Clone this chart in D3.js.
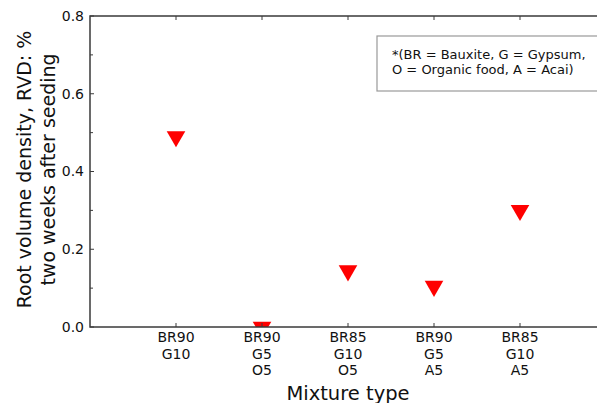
<!DOCTYPE html>
<html>
<head>
<meta charset="utf-8">
<script src="https://cdn.jsdelivr.net/npm/d3@7"></script>
<style>
  body { margin: 0; background: #fff; }
  svg { font-family: "DejaVu Sans", sans-serif; }
</style>
</head>
<body>
<div id="chart"></div>
<script>
// mixture types (tick labels are multi-line)
const mixtures = [
  ["BR90", "G10"],
  ["BR90", "G5", "O5"],
  ["BR85", "G10", "O5"],
  ["BR90", "G5", "A5"],
  ["BR85", "G10", "A5"]
]
const rvd = [0.49, 0.0, 0.145, 0.105, 0.30]
const yTicks = [0.0, 0.2, 0.4, 0.6, 0.8]
const yMinor = [0.1, 0.3, 0.5, 0.7]
const noteLines = ["*(BR = Bauxite, G = Gypsum,", "O = Organic food, A = Acai)"]

const width = 597, height = 403
const margin = { left: 90, top: 16, right: -9, bottom: 76 }

const svg = d3.select("#chart").append("svg")
  .attr("width", width)
  .attr("height", height)

const x = d3.scaleLinear().domain([0, 6]).range([margin.left, width - margin.right])
const y = d3.scaleLinear().domain([0, 0.8]).range([height - margin.bottom, margin.top])

const axisColor = "#3a3a3a"

svg.append("defs").append("clipPath").attr("id", "plot")
  .append("rect")
  .attr("x", x(0)).attr("y", y(0.8))
  .attr("width", x(6) - x(0)).attr("height", y(0) - y(0.8))

// markers: triangle down (clipped to the axes like matplotlib)
const tri = d3.symbol().type(d3.symbolTriangle).size(150)
svg.append("g").attr("clip-path", "url(#plot)")
  .selectAll("path")
  .data(rvd)
  .join("path")
  .attr("transform", (d, i) => `translate(${x(i + 1)},${y(d)}) rotate(180)`)
  .attr("d", tri)
  .attr("fill", "#ff0000")

// frame
svg.append("rect")
  .attr("x", x(0)).attr("y", y(0.8))
  .attr("width", x(6) - x(0)).attr("height", y(0) - y(0.8))
  .attr("fill", "none").attr("stroke", axisColor).attr("stroke-width", 1.5)

// y ticks (inward)
const tickG = svg.append("g").attr("stroke", axisColor).attr("stroke-width", 1)
yTicks.forEach(v => {
  tickG.append("line").attr("x1", x(0)).attr("x2", x(0) + 4).attr("y1", y(v)).attr("y2", y(v))
  tickG.append("line").attr("x1", x(6)).attr("x2", x(6) - 4).attr("y1", y(v)).attr("y2", y(v))
})
yMinor.forEach(v => {
  tickG.append("line").attr("x1", x(0)).attr("x2", x(0) + 3).attr("y1", y(v)).attr("y2", y(v))
  tickG.append("line").attr("x1", x(6)).attr("x2", x(6) - 3).attr("y1", y(v)).attr("y2", y(v))
})
// x ticks top and bottom
mixtures.forEach((m, i) => {
  tickG.append("line").attr("x1", x(i + 1)).attr("x2", x(i + 1)).attr("y1", y(0)).attr("y2", y(0) - 4)
  tickG.append("line").attr("x1", x(i + 1)).attr("x2", x(i + 1)).attr("y1", y(0.8)).attr("y2", y(0.8) + 4)
})

// y tick labels
svg.append("g").selectAll("text")
  .data(yTicks)
  .join("text")
  .attr("x", x(0) - 6)
  .attr("y", d => y(d))
  .attr("dy", "0.35em")
  .attr("text-anchor", "end")
  .style("font-size", "14px")
  .attr("fill", "#111")
  .text(d => d.toFixed(1))

// x tick labels
const xl = svg.append("g").selectAll("text")
  .data(mixtures)
  .join("text")
  .attr("text-anchor", "middle")
  .style("font-size", "14px")
  .attr("fill", "#111")
xl.each(function (d, i) {
  const t = d3.select(this)
  d.forEach((line, j) => {
    t.append("tspan").attr("x", x(i + 1)).attr("y", y(0) + 15 + j * 16.5).text(line)
  })
})

// axis labels
svg.append("text")
  .attr("x", (x(0) + x(6)) / 2)
  .attr("y", 400)
  .attr("text-anchor", "middle")
  .style("font-size", "19.5px")
  .attr("fill", "#111")
  .text("Mixture type")

const yl = svg.append("text")
  .attr("transform", `translate(31,${(y(0) + y(0.8)) / 2 - 2}) rotate(-90)`)
  .attr("text-anchor", "middle")
  .style("font-size", "19px")
  .attr("fill", "#111")
yl.append("tspan").attr("x", 0).attr("y", 0).text("Root volume density, RVD: %")
yl.append("tspan").attr("x", 0).attr("y", 24).text("two weeks after seeding")

// note box
svg.append("rect")
  .attr("x", 377).attr("y", 36)
  .attr("width", 240).attr("height", 55)
  .attr("fill", "#fff").attr("stroke", "#999").attr("stroke-width", 1.2)
svg.append("g").selectAll("text")
  .data(noteLines)
  .join("text")
  .attr("x", 392)
  .attr("y", (d, i) => 59 + i * 15)
  .style("font-size", "13px")
  .attr("fill", "#111")
  .text(d => d)
</script>
</body>
</html>
